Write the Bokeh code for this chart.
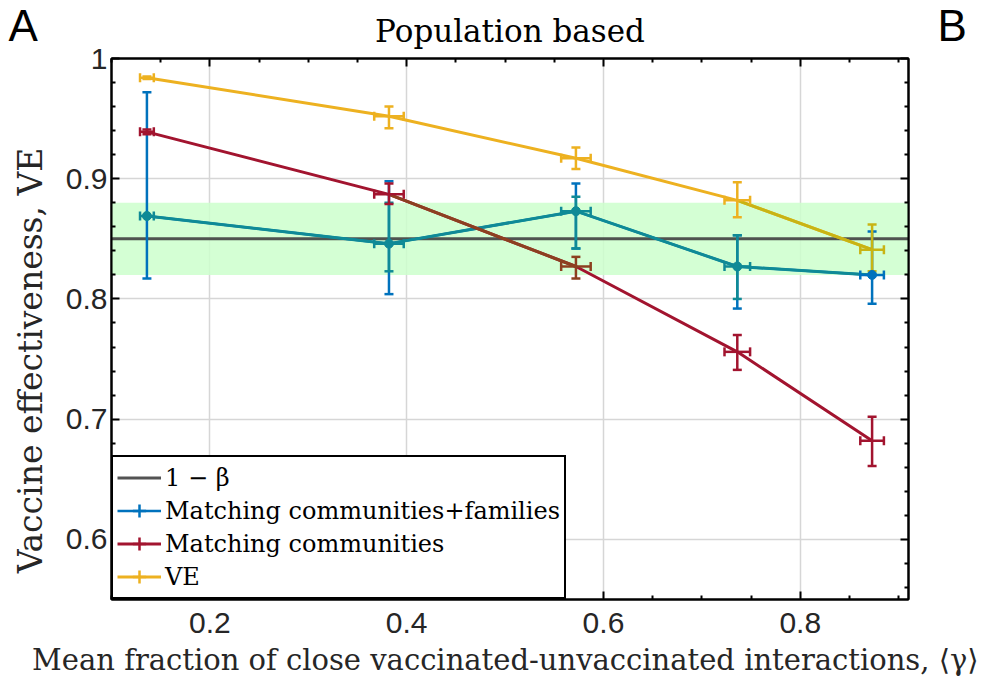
from bokeh.plotting import figure
from bokeh.models import (ColumnDataSource, Whisker, TeeHead, BoxAnnotation, Legend,
                          LegendItem, LinearAxis, Label, FixedTicker, Range1d)
from bokeh.embed import file_html
from bokeh.resources import INLINE

# ---------------- data ----------------
gamma = [0.136, 0.382, 0.572, 0.736, 0.873]
gamma_err = [0.007, 0.015, 0.015, 0.013, 0.012]

fam = [0.869, 0.846, 0.873, 0.827, 0.820]
fam_lo = [0.817, 0.804, 0.842, 0.792, 0.796]
fam_hi = [0.972, 0.898, 0.896, 0.853, 0.856]
fam_inner_lo = [0.869, 0.823, 0.842, 0.800, 0.820]
fam_inner_hi = [0.869, 0.880, 0.885, 0.853, 0.820]

com = [0.939, 0.887, 0.827, 0.756, 0.682]
com_lo = [0.937, 0.879, 0.817, 0.741, 0.661]
com_hi = [0.941, 0.896, 0.835, 0.770, 0.702]

ve = [0.984, 0.952, 0.917, 0.882, 0.841]
ve_lo = [0.983, 0.942, 0.908, 0.868, 0.823]
ve_hi = [0.985, 0.960, 0.926, 0.897, 0.862]

one_minus_beta = 0.85
band_lo, band_hi = 0.82, 0.88

x_ticks = [0.2, 0.4, 0.6, 0.8]
x_minor = [0.1, 0.15, 0.25, 0.3, 0.35, 0.45, 0.5, 0.55, 0.65, 0.7, 0.75, 0.85, 0.9]
y_ticks = [0.6, 0.7, 0.8, 0.9, 1.0]
y_tick_labels = {0.6: "0.6", 0.7: "0.7", 0.8: "0.8", 0.9: "0.9", 1.0: "1"}
y_minor = [0.56, 0.58, 0.62, 0.64, 0.66, 0.68, 0.72, 0.74, 0.76, 0.78,
           0.82, 0.84, 0.86, 0.88, 0.92, 0.94, 0.96, 0.98]
x_lim = [0.1, 0.91]
y_lim = [0.55, 1.0]

BLUE = "#0072BD"
TEAL = "#0F8A96"
RED = "#A2142F"
BROWN = "#8C4020"
YELLOW = "#EDB120"
OLIVE = "#C8B414"
GRAY = "#404040"

SERIF = "DejaVu Serif"
SANS = "Liberation Sans"
NB = "\u00a0"

p = figure(width=994, height=690, x_range=Range1d(*x_lim), y_range=Range1d(*y_lim),
           output_backend="svg", toolbar_location=None,
           min_border_left=111, min_border_right=86, min_border_top=57, min_border_bottom=91)

p.title.text = "Population based"
p.title.text_font = SERIF
p.title.text_font_size = "31px"
p.title.text_font_style = "normal"
p.title.align = "center"
p.title.text_color = "black"
p.title.standoff = 20

p.outline_line_color = "black"
p.outline_line_width = 2
p.background_fill_color = "white"


def style_axis(ax, labels=True):
    ax.axis_line_color = "black"
    ax.axis_line_width = 2
    ax.major_tick_in = 8
    ax.major_tick_out = 0
    ax.minor_tick_in = 4
    ax.minor_tick_out = 0
    ax.major_tick_line_color = "black"
    ax.major_tick_line_width = 2
    ax.minor_tick_line_color = "black"
    ax.minor_tick_line_width = 2
    if labels:
        ax.major_label_text_font = SANS
        ax.major_label_text_font_size = "30px"
        ax.major_label_text_color = "#262626"
    else:
        ax.major_label_text_font_size = "1px"
        ax.major_label_text_alpha = 0
        ax.major_label_standoff = 0


xt = FixedTicker(ticks=x_ticks, minor_ticks=x_minor)
yt = FixedTicker(ticks=y_ticks, minor_ticks=y_minor)

xa = p.xaxis[0]
xa.ticker = xt
style_axis(xa)
xa.major_label_standoff = 13
xa.axis_label = "Mean fraction of close vaccinated-unvaccinated interactions, \u27e8\u03b3\u27e9" + NB
xa.axis_label_text_font = SERIF
xa.axis_label_text_font_size = "29px"
xa.axis_label_text_font_style = "normal"
xa.axis_label_text_color = "#262626"
xa.axis_label_standoff = 7

ya = p.yaxis[0]
ya.ticker = yt
style_axis(ya)
ya.major_label_overrides = y_tick_labels
ya.major_label_standoff = 4
ya.axis_label = "Vaccine effectiveness, VE" + NB * 6
ya.axis_label_text_font = SERIF
ya.axis_label_text_font_size = "33px"
ya.axis_label_text_font_style = "normal"
ya.axis_label_text_color = "#262626"
ya.axis_label_standoff = 13

top = LinearAxis(ticker=xt)
style_axis(top, labels=False)
p.add_layout(top, "above")
right = LinearAxis(ticker=yt)
style_axis(right, labels=False)
p.add_layout(right, "right")

p.xgrid.ticker = xt
p.ygrid.ticker = yt
p.grid.grid_line_color = "#D6D6D6"
p.grid.grid_line_width = 1.5

# green band and 1-beta line
p.add_layout(BoxAnnotation(bottom=band_lo, top=band_hi, fill_color="#CCFFCC", fill_alpha=0.85,
                           line_alpha=0, level="underlay"))
r_beta = p.line(x=x_lim, y=[one_minus_beta, one_minus_beta], line_color=GRAY,
                line_alpha=0.9, line_width=3)


def whisk(idx, base, lo, hi, color, dim):
    src = ColumnDataSource(dict(base=[base[i] for i in idx],
                                lower=[lo[i] for i in idx],
                                upper=[hi[i] for i in idx]))
    w = Whisker(source=src, base="base", lower="lower", upper="upper", dimension=dim,
                line_color=color, line_width=2.5, level="annotation",
                upper_head=TeeHead(size=9, line_color=color, line_width=2.5),
                lower_head=TeeHead(size=9, line_color=color, line_width=2.5))
    p.add_layout(w)


allidx = list(range(len(gamma)))
xlo = [g - e for g, e in zip(gamma, gamma_err)]
xhi = [g + e for g, e in zip(gamma, gamma_err)]

# --- Matching communities + families ---
whisk(allidx, gamma, fam_lo, fam_hi, BLUE, "height")
whisk([4], fam, xlo, xhi, BLUE, "width")
r_fam_blue = p.line(gamma, fam, line_color=BLUE, line_width=2.5)
r_fam = p.line(gamma, fam, line_color=TEAL, line_width=3)
whisk([1, 2, 3], gamma, fam_inner_lo, fam_inner_hi, TEAL, "height")
whisk([0, 1, 2, 3], fam, xlo, xhi, TEAL, "width")
mk = p.scatter([gamma[i] for i in range(4)], [fam[i] for i in range(4)], size=9,
               fill_color=TEAL, line_color=TEAL)
mk.level = "overlay"
mk5 = p.scatter([gamma[4]], [fam[4]], size=9, fill_color=BLUE, line_color=BLUE)
mk5.level = "overlay"
ic_fam = p.scatter(gamma, fam, marker="cross", size=0, line_color=BLUE, line_width=2.5)

# --- Matching communities ---
r_com = p.line(gamma, com, line_color=RED, line_width=3)
p.segment(x0=[gamma[1]], y0=[com[1]], x1=[gamma[2]], y1=[com[2]], line_color=BROWN, line_width=3)
whisk([0, 1, 3, 4], gamma, com_lo, com_hi, RED, "height")
whisk([0, 1, 3, 4], com, xlo, xhi, RED, "width")
whisk([2], gamma, com_lo, com_hi, BROWN, "height")
whisk([2], com, xlo, xhi, BROWN, "width")
ic_com = p.scatter(gamma, com, marker="cross", size=0, line_color=RED, line_width=2.5)

# --- VE ---
r_ve = p.line(gamma, ve, line_color=YELLOW, line_width=3)
p.segment(x0=[gamma[3]], y0=[ve[3]], x1=[gamma[4]], y1=[ve[4]], line_color=OLIVE, line_width=3)
whisk([0, 1, 2, 3], gamma, ve_lo, ve_hi, YELLOW, "height")
whisk([0, 1, 2, 3], ve, xlo, xhi, YELLOW, "width")
whisk([4], gamma, ve_lo, ve_hi, OLIVE, "height")
whisk([4], ve, xlo, xhi, OLIVE, "width")
ic_ve = p.scatter(gamma, ve, marker="cross", size=0, line_color=YELLOW, line_width=2.5)

legend = Legend(items=[
    LegendItem(label="1 \u2212 \u03b2", renderers=[r_beta]),
    LegendItem(label="Matching communities+families", renderers=[r_fam_blue, ic_fam]),
    LegendItem(label="Matching communities", renderers=[r_com, ic_com]),
    LegendItem(label="VE", renderers=[r_ve, ic_ve]),
], location="bottom_left", margin=0, padding=4, spacing=0,
    glyph_width=44, glyph_height=33, label_height=33, label_standoff=4,
    label_text_font=SERIF, label_text_font_size="24px", label_text_color="black",
    border_line_color="black", border_line_width=2, border_line_alpha=1,
    background_fill_color="white", background_fill_alpha=1)
p.add_layout(legend)

# panel letters, placed in the right side panel (not clipped to the frame)
lab_b = Label(x=29, y=599, x_units="screen", y_units="screen", text="B",
              text_font=SANS, text_font_size="44px", text_color="black", text_baseline="top")
lab_a = Label(x=-929, y=599, x_units="screen", y_units="screen", text="A",
              text_font=SANS, text_font_size="44px", text_color="black", text_baseline="top")
p.add_layout(lab_b, "right")
p.add_layout(lab_a, "right")

open("out.html", "w").write(file_html(p, INLINE))
